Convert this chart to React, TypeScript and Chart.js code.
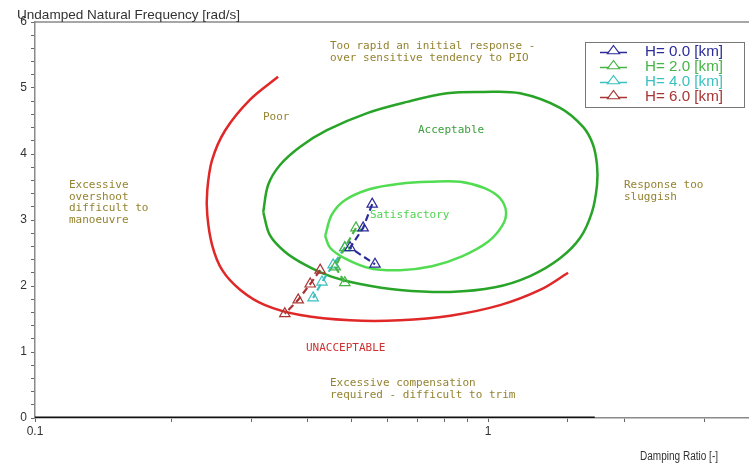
import React, { useEffect, useRef } from 'react';
import { Chart, registerables } from 'chart.js';

Chart.register(...registerables);

// ---- Data (damping ratio zeta, undamped natural frequency omega) ----
const seriesLabels = ['H= 0.0 [km]', 'H= 2.0 [km]', 'H= 4.0 [km]', 'H= 6.0 [km]'];

const h0Zeta = [0.555, 0.530, 0.496, 0.563];
const h0Omega = [3.24, 2.88, 2.58, 2.33];

const h2Zeta = [0.511, 0.483, 0.460, 0.483];
const h2Omega = [2.88, 2.58, 2.29, 2.05];

const h4Zeta = [0.483, 0.455, 0.430, 0.411];
const h4Omega = [2.58, 2.32, 2.06, 1.82];

const h6Zeta = [0.426, 0.405, 0.381, 0.356];
const h6Omega = [2.24, 2.03, 1.79, 1.58];

// Boundary: poor / unacceptable (red)
const poorZeta = [0.344, 0.298, 0.263, 0.246, 0.240, 0.240, 0.246, 0.259, 0.284, 0.322, 0.385, 0.496, 0.639, 0.825, 1.063, 1.302, 1.502];
const poorOmega = [5.17, 4.82, 4.36, 3.91, 3.45, 3.08, 2.62, 2.24, 1.94, 1.71, 1.56, 1.48, 1.48, 1.55, 1.71, 1.94, 2.20];

// Boundary: acceptable (dark green, closed)
const accZeta = [0.319, 0.330, 0.356, 0.395, 0.448, 0.522, 0.639, 0.825, 1.036, 1.238, 1.442, 1.597, 1.696, 1.740, 1.740, 1.705, 1.621, 1.442, 1.177, 0.975, 0.812, 0.663, 0.541, 0.441, 0.385, 0.347, 0.327, 0.319];
const accOmega = [3.12, 2.77, 2.52, 2.32, 2.15, 2.03, 1.94, 1.91, 1.98, 2.15, 2.42, 2.73, 3.12, 3.53, 3.83, 4.14, 4.41, 4.70, 4.92, 4.94, 4.92, 4.79, 4.62, 4.36, 4.11, 3.83, 3.53, 3.12];

// Boundary: satisfactory (light green, closed)
const satZeta = [0.437, 0.452, 0.483, 0.549, 0.639, 0.745, 0.868, 0.985, 1.063, 1.096, 1.074, 1.000, 0.876, 0.752, 0.639, 0.549, 0.483, 0.448, 0.437];
const satOmega = [2.76, 3.08, 3.30, 3.47, 3.55, 3.58, 3.58, 3.48, 3.33, 3.12, 2.91, 2.67, 2.45, 2.30, 2.24, 2.27, 2.42, 2.58, 2.76];

// Zero line
const baseZeta = [0.1, 1.72];
const baseOmega = [0, 0];

// Axes
const xMin = 0.1;
const xMax = 4;
const yMin = 0;
const yMax = 6;
const xLabeledTicks = [0.1, 1];
const yTitle = 'Undamped Natural Frequency [rad/s]';
const xTitle = 'Damping Ratio [-]';

const zip = (xs: number[], ys: number[]) => xs.map((x, i) => ({ x, y: ys[i] }));

const OLIVE = '#948330';

export default function App() {
  const ref = useRef<HTMLCanvasElement | null>(null);

  useEffect(() => {
    if (!ref.current) return;

    const seriesColors = ['#2b2b9a', '#46b446', '#3cc0c0', '#a83434'];
    const seriesData = [
      zip(h0Zeta, h0Omega),
      zip(h2Zeta, h2Omega),
      zip(h4Zeta, h4Omega),
      zip(h6Zeta, h6Omega),
    ];

    const seriesSets = seriesData.map((d, i) => ({
      label: seriesLabels[i],
      data: d,
      borderColor: seriesColors[i],
      backgroundColor: 'rgba(255,255,255,0)',
      borderWidth: 2.2,
      borderDash: [7, 4],
      pointStyle: 'triangle',
      pointRadius: 6,
      pointBorderWidth: 1.2,
      pointBorderColor: seriesColors[i],
      pointBackgroundColor: 'rgba(255,255,255,0)',
      tension: 0,
    }));

    const curve = (label: string, d: any[], color: string, width: number, tension = 0.35) => ({
      label,
      data: d,
      borderColor: color,
      backgroundColor: color,
      borderWidth: width,
      pointRadius: 0,
      tension,
    });

    const textLabels = [
      { lines: ['Too rapid an initial response -', 'over sensitive tendency to PIO'], x: 330, y: 46, color: OLIVE },
      { lines: ['Poor'], x: 263, y: 117, color: OLIVE },
      { lines: ['Acceptable'], x: 418, y: 130, color: '#3a9e3a' },
      { lines: ['Satisfactory'], x: 370, y: 215, color: '#4cd44c' },
      { lines: ['Excessive', 'overshoot', 'difficult to', 'manoeuvre'], x: 69, y: 185, color: OLIVE },
      { lines: ['Response too', 'sluggish'], x: 624, y: 185, color: OLIVE },
      { lines: ['UNACCEPTABLE'], x: 306, y: 348, color: '#d03030' },
      { lines: ['Excessive compensation', 'required - difficult to trim'], x: 330, y: 383, color: OLIVE },
    ];

    const fitText = (ctx: any, text: string, x: number, y: number, w: number) => {
      const m = ctx.measureText(text).width;
      ctx.save();
      ctx.translate(x, y);
      ctx.scale(w / m, 1);
      ctx.fillText(text, 0, 0);
      ctx.restore();
    };

    const decorPlugin = {
      id: 'decor',
      beforeDatasetsDraw(chart: any) {
        const { ctx, chartArea } = chart;
        ctx.save();
        // top border
        ctx.strokeStyle = '#8a8a8a';
        ctx.lineWidth = 1.5;
        ctx.beginPath();
        ctx.moveTo(chartArea.left, chartArea.top);
        ctx.lineTo(chart.width, chartArea.top);
        ctx.stroke();
        // region labels
        ctx.font = '11px "DejaVu Sans Mono", monospace';
        ctx.textBaseline = 'middle';
        ctx.textAlign = 'left';
        textLabels.forEach((t) => {
          ctx.fillStyle = t.color;
          t.lines.forEach((ln, k) => ctx.fillText(ln, t.x, t.y + k * 11.8));
        });
        ctx.restore();
      },
      afterDraw(chart: any) {
        const { ctx } = chart;
        ctx.save();
        // axis titles
        ctx.fillStyle = '#333';
        ctx.textBaseline = 'alphabetic';
        ctx.textAlign = 'left';
        ctx.font = '13px "Liberation Sans", Arial, sans-serif';
        fitText(ctx, yTitle, 17, 19, 223);
        ctx.font = '12px "Liberation Sans", Arial, sans-serif';
        fitText(ctx, xTitle, 640, 460, 78);

        // legend box
        const bx = 585, by = 42, bw = 159, bh = 65;
        ctx.fillStyle = '#ffffff';
        ctx.fillRect(bx, by, bw, bh);
        ctx.strokeStyle = '#777';
        ctx.lineWidth = 1;
        ctx.strokeRect(bx + 0.5, by + 0.5, bw, bh);
        ctx.font = '14.5px "Liberation Sans", Arial, sans-serif';
        ctx.textBaseline = 'middle';
        for (let i = 0; i < 4; i++) {
          const ds = chart.data.datasets[i];
          const yy = by + 8.5 + i * 15;
          ctx.strokeStyle = ds.borderColor;
          ctx.lineWidth = 1.5;
          ctx.beginPath();
          ctx.moveTo(600, yy + 2);
          ctx.lineTo(627, yy + 2);
          ctx.stroke();
          const r = 5.5;
          const cx = 613.5, cy = yy + 0.5;
          ctx.fillStyle = '#fff';
          ctx.beginPath();
          ctx.moveTo(cx, cy - r);
          ctx.lineTo(cx + r * 1.1, cy + r * 0.5);
          ctx.lineTo(cx - r * 1.1, cy + r * 0.5);
          ctx.closePath();
          ctx.fill();
          ctx.lineWidth = 1.2;
          ctx.stroke();
          ctx.fillStyle = ds.borderColor;
          fitText(ctx, ds.label, 645, yy + 1, 78);
        }
        ctx.restore();
      },
    };

    const chart = new Chart(ref.current, {
      type: 'line',
      data: {
        datasets: [
          ...seriesSets,
          curve('Satisfactory', zip(satZeta, satOmega), '#52dc52', 2.5),
          curve('Acceptable', zip(accZeta, accOmega), '#28a428', 2.5),
          curve('Poor', zip(poorZeta, poorOmega), '#e02828', 2.5),
          curve('Zero', zip(baseZeta, baseOmega), '#111', 3, 0),
        ] as any,
      },
      options: {
        animation: false,
        responsive: false,
        maintainAspectRatio: false,
        layout: { padding: { top: 22, left: 0, right: 0, bottom: 0 } },
        plugins: {
          legend: { display: false },
          tooltip: { enabled: false },
          title: { display: false },
        },
        scales: {
          x: {
            type: 'logarithmic',
            min: xMin,
            max: xMax,
            afterFit: (s: any) => { s.height = 46; },
            border: { display: true, color: '#8a8a8a', width: 1.5 },
            grid: { display: true, drawOnChartArea: false, drawTicks: true, tickLength: 4, color: '#666' },
            ticks: {
              autoSkip: false,
              maxRotation: 0,
              padding: 2,
              color: '#333',
              font: { family: '"Liberation Sans", Arial, sans-serif', size: 12 },
              callback: (v: any) => {
                const n = Number(v);
                const hit = xLabeledTicks.find((t) => Math.abs(t - n) < 1e-9);
                return hit !== undefined ? String(hit) : '';
              },
            },
          },
          y: {
            type: 'linear',
            min: yMin,
            max: yMax,
            afterFit: (s: any) => { s.width = 35; },
            border: { display: true, color: '#8a8a8a', width: 1.5 },
            grid: { display: true, drawOnChartArea: false, drawTicks: true, tickLength: 4, color: '#666' },
            ticks: {
              stepSize: 0.2,
              autoSkip: false,
              padding: 4,
              color: '#333',
              font: { family: '"Liberation Sans", Arial, sans-serif', size: 12 },
              callback: (v: any) => {
                const n = Number(v);
                return Math.abs(n - Math.round(n)) < 1e-6 ? String(Math.round(n)) : '';
              },
            },
          },
        },
      } as any,
      plugins: [decorPlugin],
    });

    return () => chart.destroy();
  }, []);

  return (
    <div style={{ position: 'fixed', left: 0, top: 0, width: 749, height: 464, overflow: 'hidden', background: '#fff' }}>
      <canvas ref={ref} width={768} height={464} style={{ display: 'block', width: 768, height: 464 }} />
    </div>
  );
}
